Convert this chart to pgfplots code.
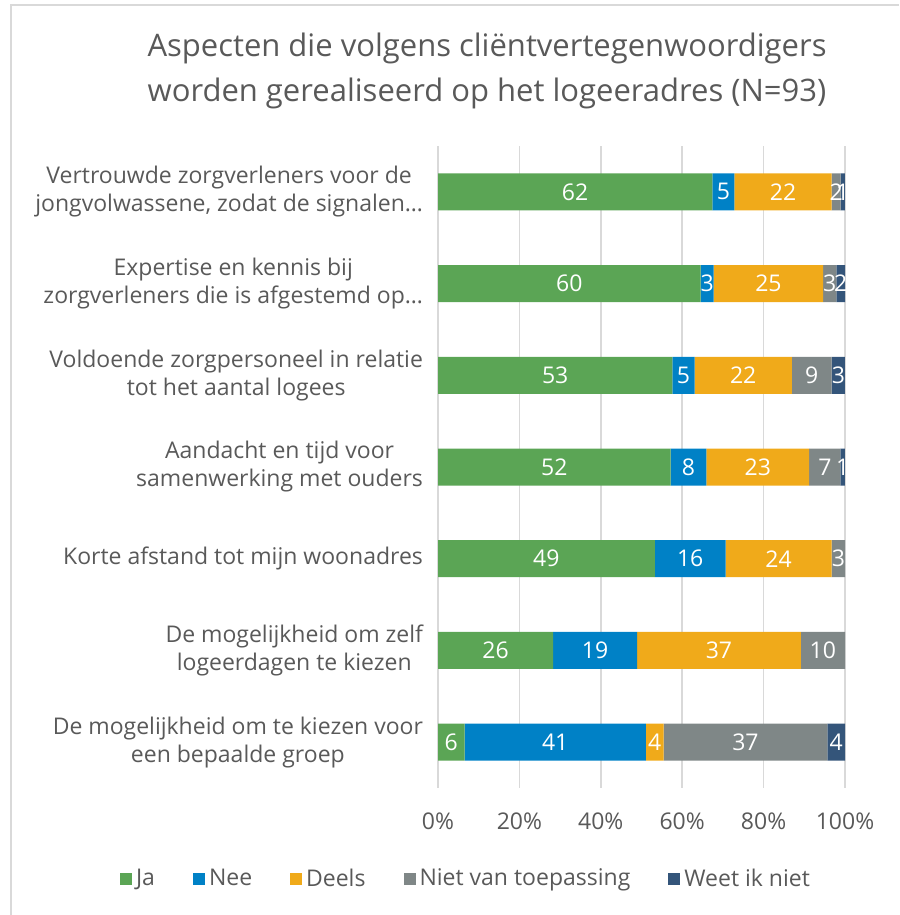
\documentclass[border=0pt]{standalone}
\usepackage{fontspec}
\setmainfont{Open Sans}
\usepackage{pgfplots}
\usepackage{pgfplotstable}
\pgfplotsset{compat=1.18}
\definecolor{cJa}{HTML}{5BA555}
\definecolor{cNee}{HTML}{0081C6}
\definecolor{cDeels}{HTML}{F0AA1A}
\definecolor{cNvt}{HTML}{7F8787}
\definecolor{cWeet}{HTML}{34557A}
\definecolor{txt}{HTML}{595959}
\definecolor{gridc}{HTML}{D9D9D9}

% columns: y = row (0 = top), pct = share of the row in %, n = count shown
\pgfplotstableread{
y pct n
0 67.39 62
1 64.52 60
2 57.61 53
3 57.14 52
4 53.26 49
5 28.26 26
6 6.52 6
}\tJa
\pgfplotstableread{
y pct n
0 5.43 5
1 3.23 3
2 5.43 5
3 8.79 8
4 17.39 16
5 20.65 19
6 44.57 41
}\tNee
\pgfplotstableread{
y pct n
0 23.91 22
1 26.88 25
2 23.91 22
3 25.27 23
4 26.09 24
5 40.22 37
6 4.35 4
}\tDeels
\pgfplotstableread{
y pct n
0 2.17 2
1 3.23 3
2 9.78 9
3 7.69 7
4 3.26 3
5 10.87 10
6 40.22 37
}\tNvt
\pgfplotstableread{
y pct n
0 1.09 1
1 2.14 2
2 3.26 3
3 1.10 1
4 0 0
5 0 0
6 4.34 4
}\tWeet

\begin{document}
\begin{tikzpicture}
\path[use as bounding box] (0,0) rectangle (449.5pt,457.5pt);
\draw[gridc, line width=0.8pt] (5.5pt,0) -- (5.5pt,455pt) -- (449.5pt,455pt);
\node[align=center, text=txt, font=\fontsize{15.5}{22.5}\selectfont] at (243.5pt,422pt)
  {Aspecten die volgens cliëntvertegenwoordigers\\worden gerealiseerd op het logeeradres (N=93)};
\begin{axis}[
  at={(219pt,63.5pt)}, anchor=south west,
  width=203.5pt, height=321pt, scale only axis,
  xbar stacked, bar width=18.5pt,
  xmin=0, xmax=100, ymin=-0.5, ymax=6.5, y dir=reverse,
  axis line style={draw=none},
  major tick length=0pt,
  xmajorgrids, grid style={gridc, line width=0.8pt},
  xtick={0,20,40,60,80,100},
  /pgf/number format/assume math mode=true,
  xticklabel={\pgfmathprintnumber{\tick}\%},
  xticklabel style={text=txt, font=\fontsize{11.5}{13}\selectfont, yshift=-9pt},
  ytick={0,...,6},
  yticklabels={
    {Vertrouwde zorgverleners voor de\\jongvolwassene, zodat de signalen…},
    {Expertise en kennis bij\\zorgverleners die is afgestemd op…},
    {Voldoende zorgpersoneel in relatie\\tot het aantal logees},
    {Aandacht en tijd voor\\samenwerking met ouders},
    {Korte afstand tot mijn woonadres},
    {De mogelijkheid om zelf\\logeerdagen te kiezen},
    {De mogelijkheid om te kiezen voor\\een bepaalde groep}},
  yticklabel style={align=center, text=txt, font=\fontsize{11.5}{14}\selectfont, xshift=-4pt},
  point meta=explicit,
  nodes near coords={\pgfmathfloatifflags{\pgfplotspointmeta}{0}{}{\pgfmathprintnumber{\pgfplotspointmeta}}},
  every node near coord/.append style={text=white, font=\fontsize{11.5}{13}\selectfont,
     anchor=center, inner sep=0pt},
  legend columns=5,
  legend style={at={(0.0713,-0.1417)}, anchor=center, draw=none, fill=none,
     font=\fontsize{11.5}{13}\selectfont, text=txt,
     /tikz/every even column/.append style={column sep=17pt}},
  legend image code/.code={\fill[#1] (0pt,-3pt) rectangle (6pt,3pt);},
]
\addplot[fill=cJa, draw=none] table[x=pct, y=y, meta=n] {\tJa};
\addlegendentry{Ja}
\addplot[fill=cNee, draw=none] table[x=pct, y=y, meta=n] {\tNee};
\addlegendentry{Nee}
\addplot[fill=cDeels, draw=none] table[x=pct, y=y, meta=n] {\tDeels};
\addlegendentry{Deels}
\addplot[fill=cNvt, draw=none] table[x=pct, y=y, meta=n] {\tNvt};
\addlegendentry{Niet van toepassing}
\addplot[fill=cWeet, draw=none] table[x=pct, y=y, meta=n] {\tWeet};
\addlegendentry{Weet ik niet}
\end{axis}
\end{tikzpicture}
\end{document}
